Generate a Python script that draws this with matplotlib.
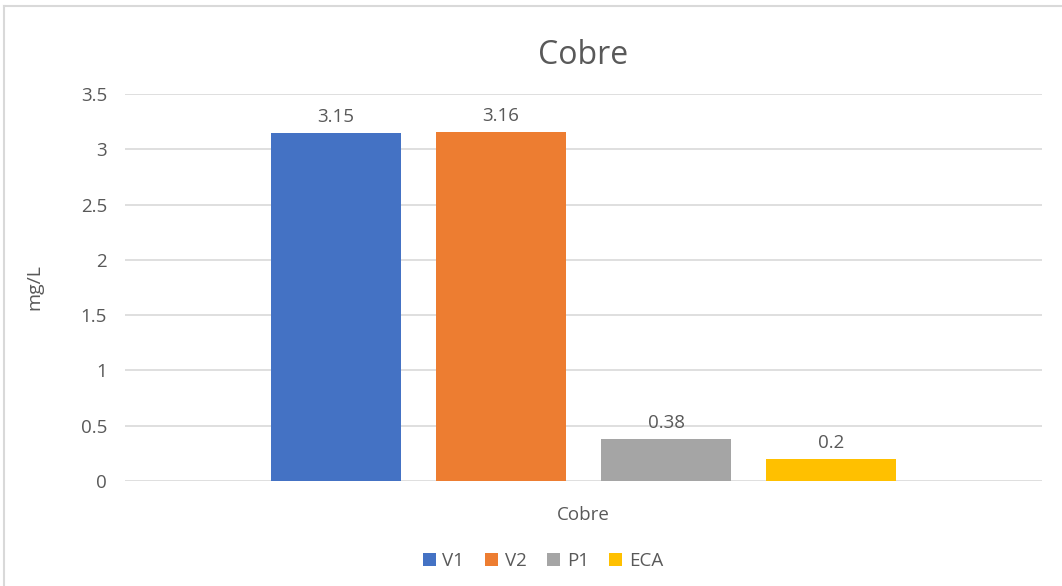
import matplotlib.pyplot as plt
from matplotlib.lines import Line2D
from matplotlib.patches import Patch

categories = ["Cobre"]
series = ["V1", "V2", "P1", "ECA"]
values = [3.15, 3.16, 0.38, 0.2]
labels = ["3.15", "3.16", "0.38", "0.2"]
colors = ["#4472C4", "#ED7D31", "#A5A5A5", "#FFC000"]
yticks = [0, 0.5, 1, 1.5, 2, 2.5, 3, 3.5]
ytick_labels = ["0", "0.5", "1", "1.5", "2", "2.5", "3", "3.5"]

plt.rcParams["font.family"] = ["Open Sans", "DejaVu Sans"]
text_color = "#595959"
grid_color = "#D9D9D9"

W, H = 1062, 586
fig = plt.figure(figsize=(W / 100, H / 100), dpi=100)
ax = fig.add_axes([125 / W, 1 - 481 / H, (1042 - 125) / W, (481 - 94) / H])

width = 0.142
step = 0.18
for i, (name, v, lab, c) in enumerate(zip(series, values, labels, colors)):
    x = (i - 1.5) * step
    ax.bar(x, v, width=width, color=c, label=name, zorder=3)
    ax.text(x, v + 0.06, lab, ha="center", va="bottom", fontsize=13.5,
            color=text_color)

ax.set_xlim(-0.5, 0.5)
ax.set_ylim(0, 3.5)
ax.set_yticks(yticks)
ax.set_yticklabels(ytick_labels)
ax.set_xticks([])
for y in yticks:
    ax.axhline(y, color=grid_color, lw=1.2, zorder=1)
for s in ax.spines.values():
    s.set_visible(False)
ax.tick_params(axis="y", length=0, pad=13, labelsize=13.5, labelcolor=text_color)

ax.set_ylabel("mg/L", fontsize=14, color=text_color)
ax.yaxis.set_label_coords(-82 / (1042 - 125), 0.5)

fig.text(583.5 / W, 1 - 56 / H, "Cobre", ha="center", va="center",
         fontsize=23, color=text_color)
fig.text(583.5 / W, 1 - 515 / H, categories[0], ha="center", va="center",
         fontsize=13.5, color=text_color)

handles = [Patch(facecolor=c, edgecolor="none") for c in colors]
fig.legend(handles, series, loc="center", bbox_to_anchor=(543 / W, 1 - 561 / H),
           ncol=4, frameon=False, fontsize=13.5, labelcolor=text_color,
           handlelength=0.7, handleheight=0.7, handletextpad=0.35,
           columnspacing=1.1)

# outer chart frame
fig.add_artist(Line2D([4 / W, 4 / W], [0, 1 - 6 / H], transform=fig.transFigure,
                      color=grid_color, lw=1.5))
fig.add_artist(Line2D([4 / W, 1], [1 - 6 / H, 1 - 6 / H], transform=fig.transFigure,
                      color=grid_color, lw=1.5))

fig.savefig("out.png", dpi=100)
